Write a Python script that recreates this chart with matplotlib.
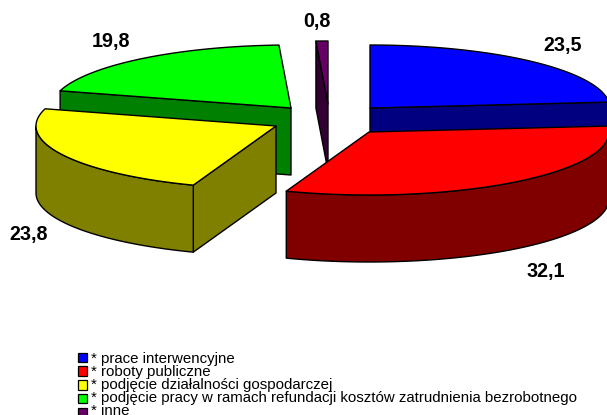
import numpy as np
import matplotlib
matplotlib.use("Agg")
import matplotlib.pyplot as plt
from matplotlib.patches import Polygon, Rectangle

plt.rcParams["font.family"] = ["Liberation Sans", "DejaVu Sans"]

# Data, clockwise from 12 o'clock
labels = [
    "* prace interwencyjne",
    "* roboty publiczne",
    "* podjęcie działalności gospodarczej",
    "* podjęcie pracy w ramach refundacji kosztów zatrudnienia bezrobotnego",
    "* inne",
]
values = [23.5, 32.1, 23.8, 19.8, 0.8]
value_text = ["23,5", "32,1", "23,8", "19,8", "0,8"]

top_colors = ["#0000ff", "#ff0000", "#ffff00", "#00ff00", "#660066"]
side_colors = ["#000080", "#800000", "#808000", "#008000", "#330033"]

# Layout in pixels of the 607x415 picture
centers = [(370, 108), (369, 132), (276, 126), (291, 108), (328, 104)]
label_pos = [(563, 45), (546, 271), (29, 234), (111, 41), (317, 22)]
RX = 240
RY = 63
DEPTH = 67
draw_order = [4, 3, 0, 2, 1]


def wedge_outline(cx, cy, start, stop):
    th = np.radians(np.linspace(start, stop, 120))
    xs = cx + RX * np.sin(th)
    ys = cy - RY * np.cos(th)
    return np.r_[cx, xs], np.r_[cy, ys]


def draw_slice(ax, i, start, stop):
    xs, ys = wedge_outline(centers[i][0], centers[i][1], start, stop)
    # apex -> rim -> apex, sides that run leftwards on screen face the viewer
    xc = np.r_[xs, xs[0]]
    yc = np.r_[ys, ys[0]]
    n = len(xc) - 1
    j = 0
    while j < n:
        if xc[j + 1] - xc[j] < -1e-9:
            k = j
            while k < n and xc[k + 1] - xc[k] < -1e-9:
                # the apex is a hard corner, end the face there
                if k == 0:
                    k += 1
                    break
                k += 1
            top = np.column_stack([xc[j:k + 1], yc[j:k + 1]])
            bottom = top[::-1] + [0, DEPTH]
            ax.add_patch(Polygon(np.vstack([top, bottom]), closed=True, fc=side_colors[i],
                                 ec="black", lw=1.0, joinstyle="round"))
            j = k
        else:
            j += 1
    ax.add_patch(Polygon(np.column_stack([xs, ys]), closed=True, fc=top_colors[i],
                         ec="black", lw=1.0, joinstyle="round"))


fig = plt.figure(figsize=(6.07, 4.15), dpi=100)
ax = fig.add_axes([0, 0, 1, 1])
ax.set_xlim(0, 607)
ax.set_ylim(415, 0)
ax.axis("off")

angles = np.r_[0, np.cumsum(values)] / sum(values) * 360
for i in draw_order:
    draw_slice(ax, i, angles[i], angles[i + 1])

for i, txt in enumerate(value_text):
    ax.text(label_pos[i][0], label_pos[i][1], txt, fontsize=14.2, fontweight="bold",
            ha="center", va="center", color="black")

# legend, lines are packed tight like in the original
for i, lab in enumerate(labels):
    box_y = 357.3 + i * 13.8
    ax.add_patch(Rectangle((77.5, box_y - 4.7), 9, 9.4, fc=top_colors[i], ec="black", lw=0.9))
    ax.text(91, 362.6 + i * 13, lab, fontsize=10.8, ha="left", va="baseline", color="black")

fig.savefig("out.png", dpi=100)
